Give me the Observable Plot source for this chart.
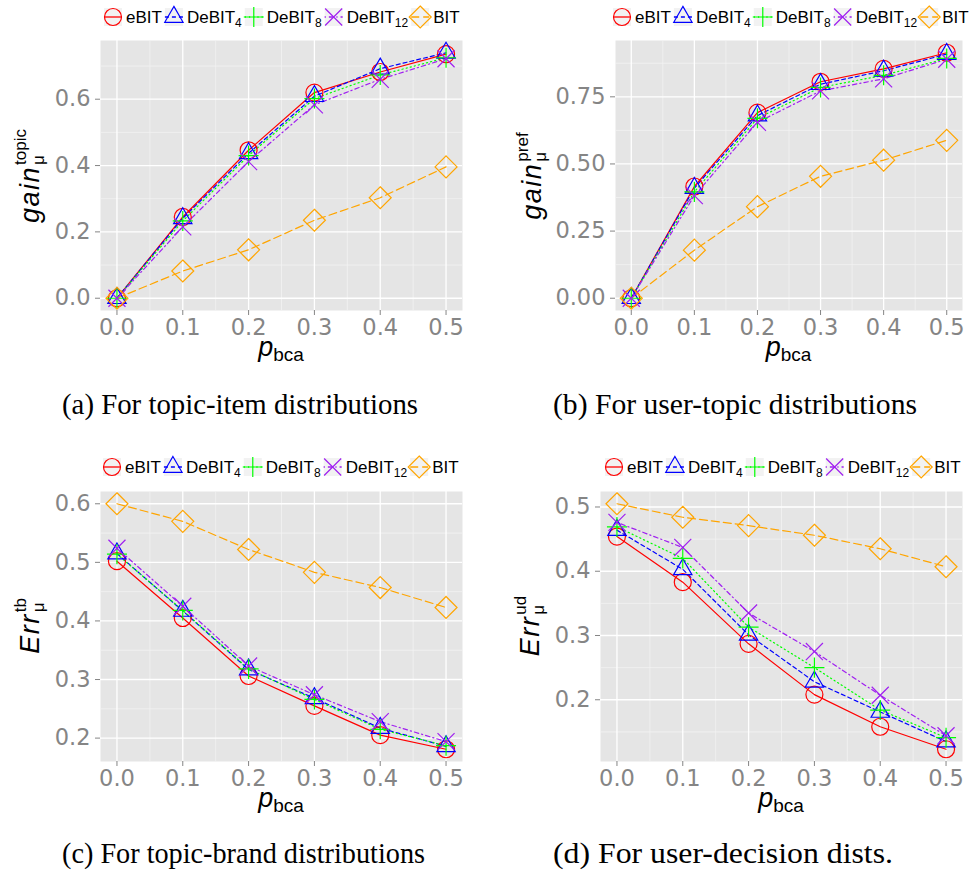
<!DOCTYPE html>
<html>
<head>
<meta charset="utf-8">
<script src="https://cdn.jsdelivr.net/npm/d3@7"></script>
<script src="https://cdn.jsdelivr.net/npm/@observablehq/plot@0.6"></script>
<style>
  body { margin: 0; background: #ffffff; }
  #root { position: relative; width: 973px; height: 874px; overflow: hidden; background: #ffffff; }
</style>
</head>
<body>
<div id="root"></div>
<script>
// ---------- data ----------
const pbca = [0, 0.1, 0.2, 0.3, 0.4, 0.5];
const methods = ["eBIT", "DeBIT4", "DeBIT8", "DeBIT12", "BIT"];
const methodBase = ["eBIT", "DeBIT", "DeBIT", "DeBIT", "BIT"];
const methodSub = ["", "4", "8", "12", ""];
const xTicks = [0, 0.1, 0.2, 0.3, 0.4, 0.5];
const xMinorTicks = [0.05, 0.15, 0.25, 0.35, 0.45];

// (a) topic-item gain
const topicItem_eBIT    = [0, 0.245, 0.446, 0.620, 0.682, 0.736];
const topicItem_DeBIT4  = [0, 0.241, 0.437, 0.609, 0.692, 0.740];
const topicItem_DeBIT8  = [0, 0.233, 0.430, 0.602, 0.673, 0.725];
const topicItem_DeBIT12 = [0, 0.215, 0.412, 0.583, 0.660, 0.722];
const topicItem_BIT     = [0, 0.082, 0.146, 0.235, 0.303, 0.396];
const topicItem_yTicks  = [0, 0.2, 0.4, 0.6];
const topicItem_yMinor  = [0.1, 0.3, 0.5, 0.7];

// (b) user-topic gain
const userTopic_eBIT    = [0, 0.416, 0.691, 0.806, 0.854, 0.914];
const userTopic_DeBIT4  = [0, 0.410, 0.680, 0.797, 0.847, 0.909];
const userTopic_DeBIT8  = [0, 0.396, 0.670, 0.785, 0.830, 0.893];
const userTopic_DeBIT12 = [0, 0.382, 0.655, 0.772, 0.817, 0.890];
const userTopic_BIT     = [0, 0.179, 0.341, 0.454, 0.514, 0.588];
const userTopic_yTicks  = [0, 0.25, 0.5, 0.75];
const userTopic_yMinor  = [0.125, 0.375, 0.625, 0.875];

// (c) topic-brand error
const topicBrand_eBIT    = [0.502, 0.405, 0.306, 0.255, 0.205, 0.181];
const topicBrand_DeBIT4  = [0.515, 0.417, 0.317, 0.268, 0.217, 0.186];
const topicBrand_DeBIT8  = [0.514, 0.418, 0.318, 0.266, 0.215, 0.187];
const topicBrand_DeBIT12 = [0.524, 0.425, 0.323, 0.274, 0.228, 0.194];
const topicBrand_BIT     = [0.600, 0.570, 0.522, 0.483, 0.457, 0.423];
const topicBrand_yTicks  = [0.2, 0.3, 0.4, 0.5, 0.6];
const topicBrand_yMinor  = [0.25, 0.35, 0.45, 0.55];

// (d) user-decision error
const userDecision_eBIT    = [0.454, 0.383, 0.287, 0.208, 0.158, 0.123];
const userDecision_DeBIT4  = [0.464, 0.403, 0.301, 0.228, 0.181, 0.135];
const userDecision_DeBIT8  = [0.469, 0.420, 0.313, 0.250, 0.184, 0.141];
const userDecision_DeBIT12 = [0.476, 0.437, 0.335, 0.275, 0.207, 0.144];
const userDecision_BIT     = [0.505, 0.484, 0.471, 0.456, 0.435, 0.407];
const userDecision_yTicks  = [0.2, 0.3, 0.4, 0.5];
const userDecision_yMinor  = [0.15, 0.25, 0.35, 0.45];

const captions = [
  "(a) For topic-item distributions",
  "(b) For user-topic distributions",
  "(c) For topic-brand distributions",
  "(d) For user-decision dists."
];

// ---------- styles ----------
const colors = ["#FF0000", "#0000FF", "#00FF00", "#A020F0", "#FFA500"];
const symbols = ["circle", "triangle", "plus", "times", "diamond2"];
const d3symbols = [d3.symbolCircle, d3.symbolTriangle, d3.symbolPlus, d3.symbolTimes, d3.symbolDiamond2];
const dashes = [null, "4,3", "1.2,3", "1.2,3,4.5,3", "8,4"];
const radii = [8.5, 6.8, 6.5, 7.8, 9.9];

const panels = [
  { series: [topicItem_eBIT, topicItem_DeBIT4, topicItem_DeBIT8, topicItem_DeBIT12, topicItem_BIT],
    yTicks: topicItem_yTicks, yMinor: topicItem_yMinor, fmt: ".1f",
    left: 0, top: 30, width: 470, mLeft: 100,
    title: ["gain", "μ", "topic"], titleX: 39, titleY: 176,
    legendX: 104, legendY: 17, capX: 62, capY: 414, capW: 356 },
  { series: [userTopic_eBIT, userTopic_DeBIT4, userTopic_DeBIT8, userTopic_DeBIT12, userTopic_BIT],
    yTicks: userTopic_yTicks, yMinor: userTopic_yMinor, fmt: ".2f",
    left: 490, top: 30, width: 480, mLeft: 125,
    title: ["gain", "μ", "pref"], titleX: 541, titleY: 176,
    legendX: 613, legendY: 17, capX: 553, capY: 414, capW: 364 },
  { series: [topicBrand_eBIT, topicBrand_DeBIT4, topicBrand_DeBIT8, topicBrand_DeBIT12, topicBrand_BIT],
    yTicks: topicBrand_yTicks, yMinor: topicBrand_yMinor, fmt: ".1f",
    left: 0, top: 481, width: 470, mLeft: 100,
    title: ["Err", "μ", "tb"], titleX: 39, titleY: 626,
    legendX: 103, legendY: 467, capX: 62, capY: 863, capW: 363 },
  { series: [userDecision_eBIT, userDecision_DeBIT4, userDecision_DeBIT8, userDecision_DeBIT12, userDecision_BIT],
    yTicks: userDecision_yTicks, yMinor: userDecision_yMinor, fmt: ".1f",
    left: 490, top: 481, width: 480, mLeft: 110,
    title: ["Err", "μ", "ud"], titleX: 539, titleY: 626,
    legendX: 605, legendY: 467, capX: 553, capY: 863, capW: 340 }
];

const root = document.getElementById("root");
const PH = 340, MT = 10, MB = 60, MR = 8;

panels.forEach(p => {
  const all = p.series.flat();
  const [lo, hi] = d3.extent(all);
  const pad = (hi - lo) * 0.05;
  const marks = [
    Plot.frame({fill: "#E5E5E5", stroke: "none"}),
    Plot.gridX(xMinorTicks, {stroke: "#F2F2F2", strokeOpacity: 1, strokeWidth: 0.8}),
    Plot.gridY(p.yMinor, {stroke: "#F2F2F2", strokeOpacity: 1, strokeWidth: 0.8}),
    Plot.gridX(xTicks, {stroke: "#FFFFFF", strokeOpacity: 1, strokeWidth: 1.3}),
    Plot.gridY(p.yTicks, {stroke: "#FFFFFF", strokeOpacity: 1, strokeWidth: 1.3})
  ];
  p.series.forEach((vals, i) => {
    const rows = pbca.map((x, j) => ({x, y: vals[j]}));
    marks.push(Plot.line(rows, {x: "x", y: "y", stroke: colors[i], strokeWidth: 1.2,
      strokeDasharray: dashes[i] || undefined}));
  });
  p.series.forEach((vals, i) => {
    const rows = pbca.map((x, j) => ({x, y: vals[j]}));
    marks.push(Plot.dot(rows, {x: "x", y: "y", symbol: symbols[i], r: radii[i],
      stroke: colors[i], fill: "none", strokeWidth: 1.2}));
  });
  marks.push(Plot.axisX(xTicks, {tickFormat: d3.format(".1f"), tickSize: 5, tickPadding: 4,
    label: null, fontSize: 22.5, fontFamily: "DejaVu Sans"}));
  marks.push(Plot.axisY(p.yTicks, {tickFormat: d3.format(p.fmt), tickSize: 5, tickPadding: 5,
    label: null, fontSize: 22.5, fontFamily: "DejaVu Sans"}));

  const svg = Plot.plot({
    width: p.width, height: PH,
    marginLeft: p.mLeft, marginRight: MR, marginTop: MT, marginBottom: MB,
    x: {domain: [-0.025, 0.525]},
    y: {domain: [lo - pad, hi + pad]},
    style: {color: "#858585", background: "transparent", overflow: "visible",
            fontFamily: "DejaVu Sans", fontSize: "22px"},
    marks
  });
  svg.style.position = "absolute";
  svg.style.left = p.left + "px";
  svg.style.top = p.top + "px";
  root.appendChild(svg);
});

// ---------- overlay: legends, axis titles, captions ----------
const ov = d3.select(root).append("svg")
  .attr("width", 973).attr("height", 874)
  .style("position", "absolute").style("left", "0px").style("top", "0px")
  .style("pointer-events", "none")
  .style("font-family", "'Liberation Sans', Arial, sans-serif");

panels.forEach(p => {
  // legend
  let x = p.legendX;
  const yc = p.legendY;
  const K = 18;
  methods.forEach((m, i) => {
    ov.append("rect").attr("x", x).attr("y", yc - K / 2).attr("width", K).attr("height", K)
      .attr("fill", "#F2F2F2");
    ov.append("line").attr("x1", x).attr("x2", x + K).attr("y1", yc).attr("y2", yc)
      .attr("stroke", colors[i]).attr("stroke-width", 1.3)
      .attr("stroke-dasharray", dashes[i]);
    ov.append("path").attr("d", d3.symbol(d3symbols[i], radii[i] * radii[i] * Math.PI)())
      .attr("transform", `translate(${x + K / 2},${yc})`)
      .attr("fill", "none").attr("stroke", colors[i]).attr("stroke-width", 1.2);
    x += K + 4;
    const t = ov.append("text").attr("x", x).attr("y", yc + 6).attr("font-size", 17).attr("fill", "#000");
    t.append("tspan").text(methodBase[i]);
    if (methodSub[i]) t.append("tspan").attr("font-size", 12).attr("dy", 4).text(methodSub[i]);
    x += t.node().getComputedTextLength() + 3;
  });

  // x title
  const cx = p.left + p.mLeft + (p.width - p.mLeft - MR) / 2;
  const xt = ov.append("text").attr("x", cx).attr("y", p.top + 326).attr("text-anchor", "middle").attr("fill", "#000");
  xt.append("tspan").attr("font-size", 27).attr("font-style", "italic").text("p");
  xt.append("tspan").attr("font-size", 19).attr("dy", 5).text("bca");

  // y title
  const g = ov.append("g").attr("transform", `translate(${p.titleX},${p.titleY}) rotate(-90)`);
  const inner = g.append("g");
  const t1 = inner.append("text").attr("x", 0).attr("y", 0).attr("font-size", 27)
    .attr("font-style", "italic").attr("letter-spacing", 1.5).attr("fill", "#000").text(p.title[0]);
  const w1 = t1.node().getComputedTextLength();
  const t2 = inner.append("text").attr("x", w1 + 1).attr("y", 5).attr("font-size", 17).attr("fill", "#000").text(p.title[1]);
  const t3 = inner.append("text").attr("x", w1 + 1).attr("y", -13).attr("font-size", 17).attr("fill", "#000").text(p.title[2]);
  const total = w1 + 1 + Math.max(t2.node().getComputedTextLength(), t3.node().getComputedTextLength());
  inner.attr("transform", `translate(${-total / 2},0)`);
});

panels.forEach((p, i) => {
  ov.append("text").attr("x", p.capX).attr("y", p.capY)
    .style("font-family", "'Liberation Serif', 'Times New Roman', Times, serif")
    .attr("font-size", 29)
    .attr("textLength", p.capW).attr("lengthAdjust", "spacingAndGlyphs")
    .attr("fill", "#000").text(captions[i]);
});
</script>
</body>
</html>
